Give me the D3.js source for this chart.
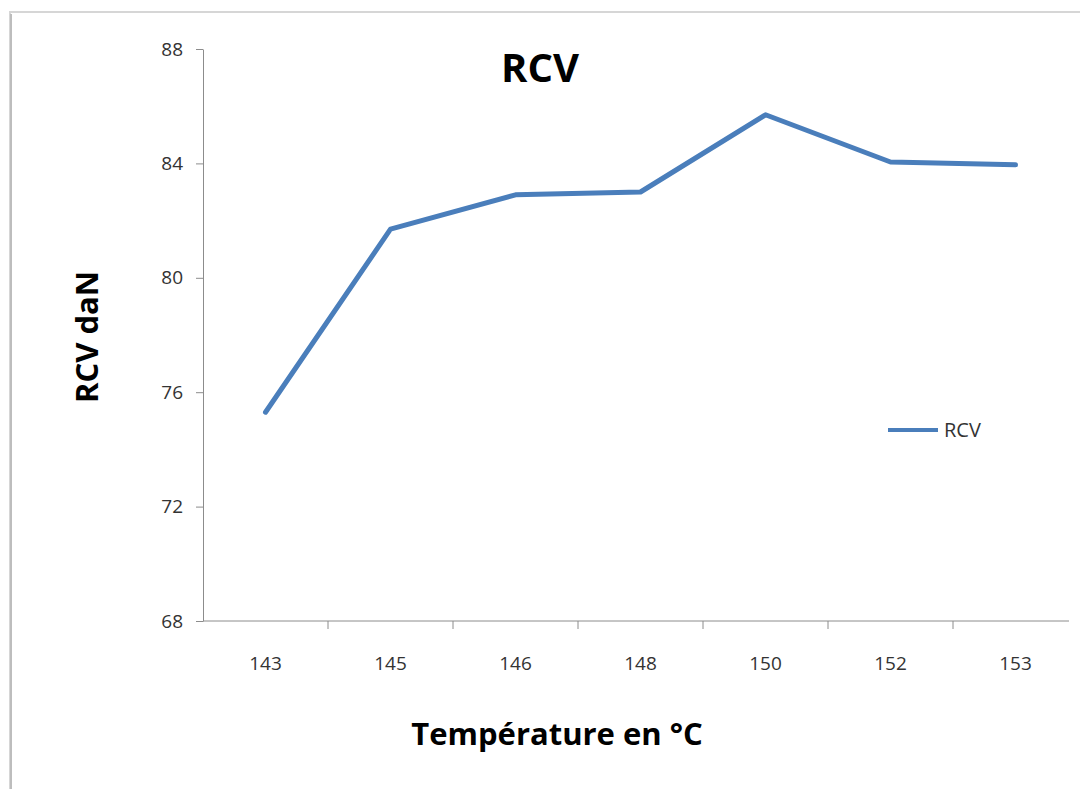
<!DOCTYPE html>
<html>
<script src='https://d3js.org/d3.v7.min.js'></script>
<style>
body {margin:0; background:white;}
text {font-family: 'Open Sans', 'Liberation Sans', sans-serif;}
.axis text {fill:#333; font-size:19px;}
.axis line, .axis path {stroke:#8c8c8c;}
</style>
<body onload='init()'>
<script>
var temps = ['143','145','146','148','150','152','153'];
var rcv = [75.3, 81.7, 82.9, 83.0, 85.7, 84.05, 83.95];
var yTicks = [68, 72, 76, 80, 84, 88];

function init() {
var svg = d3.select('body').append('svg')
.attr('width', 1080)
.attr('height', 789);

// frame of the chart area
svg.append('rect')
.attr('x', 10).attr('y', 12)
.attr('width', 1100).attr('height', 800)
.style('fill', 'white')
.style('stroke', '#d6d6d6')
.style('stroke-width', 2);
svg.append('line')
.attr('x1', 11).attr('x2', 11).attr('y1', 14).attr('y2', 789)
.style('stroke', '#bdbdbd').style('stroke-width', 2);

var x = d3.scaleBand().domain(temps).range([203, 1078]);
var y = d3.scaleLinear().domain([68, 88]).range([621, 49]);

// y axis
svg.append('g')
.attr('class', 'axis')
.attr('transform', 'translate(203,0)')
.call(d3.axisLeft(y).tickValues(yTicks).tickSize(7).tickSizeOuter(0).tickPadding(13));

// x axis, ticks between categories
var xa = svg.append('g')
.attr('class', 'axis')
.attr('transform', 'translate(0,621)')
.call(d3.axisBottom(x).tickSize(0).tickPadding(36));
xa.select('.domain').remove();
xa.append('line')
.attr('x1', 203).attr('x2', 1069)
.style('stroke', '#8c8c8c');
xa.selectAll('.sep')
.data(temps.slice(1))
.enter()
.append('line')
.attr('x1', function(d){return x(d);})
.attr('x2', function(d){return x(d);})
.attr('y1', 0).attr('y2', 8)
.style('stroke', '#8c8c8c');

// the line
var line = d3.line()
.x(function(d, i){return x(temps[i]) + x.bandwidth() / 2;})
.y(function(d){return y(d);});

svg.append('path')
.datum(rcv)
.attr('d', line)
.style('fill', 'none')
.style('stroke', '#4a7ebb')
.style('stroke-width', 5)
.style('stroke-linejoin', 'round')
.style('stroke-linecap', 'round');

// title
svg.append('text')
.attr('x', 540).attr('y', 82)
.style('text-anchor', 'middle')
.style('font-size', '40px')
.style('font-weight', 'bold')
.text('RCV');

// axis titles
svg.append('text')
.attr('transform', 'translate(98,337)rotate(-90)')
.style('text-anchor', 'middle')
.style('font-size', '31px')
.style('font-weight', 'bold')
.text('RCV daN');

svg.append('text')
.attr('x', 557).attr('y', 745)
.style('text-anchor', 'middle')
.style('font-size', '31px')
.style('font-weight', 'bold')
.text('Température en °C');

// legend
svg.append('line')
.attr('x1', 888).attr('x2', 938).attr('y1', 430).attr('y2', 430)
.style('stroke', '#4a7ebb').style('stroke-width', 4);
svg.append('text')
.attr('x', 944).attr('y', 437)
.style('font-size', '20px')
.style('fill', '#333')
.text('RCV');
}
</script>
</body>
</html>
